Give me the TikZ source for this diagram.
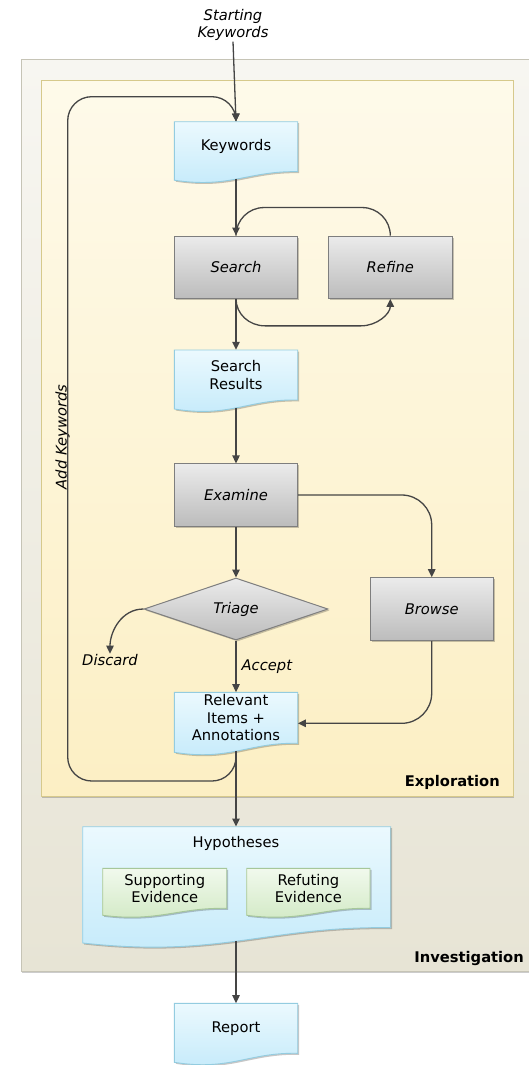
\documentclass[tikz,border=0pt]{standalone}
\usepackage{fontspec}
\setmainfont{DejaVu Sans}
\usetikzlibrary{arrows.meta,shapes.geometric,shadows,calc}
\definecolor{conncol}{HTML}{454545}
\definecolor{outtop}{HTML}{F7F6F1}
\definecolor{outbot}{HTML}{E7E4D5}
\definecolor{outline}{HTML}{C6C4B6}
\definecolor{intop}{HTML}{FEFAEA}
\definecolor{inbot}{HTML}{FCEFC4}
\definecolor{inline}{HTML}{D6C98C}
\definecolor{bluetop}{HTML}{EBF9FE}
\definecolor{bluebot}{HTML}{C4EAFA}
\definecolor{blueline}{HTML}{93CCE0}
\definecolor{graytop}{HTML}{EBEBEB}
\definecolor{graybot}{HTML}{BCBCBC}
\definecolor{grayline}{HTML}{7E7E7E}
\definecolor{greentop}{HTML}{F1F9ED}
\definecolor{greenbot}{HTML}{D1E9C4}
\definecolor{greenline}{HTML}{A6C79A}
\newcommand\docpath[6]{%
  \path[#1] (#2,#3) -- (#4,#3) -- (#4,#5)
    .. controls ({#4-0.4*(#4-#2)},{#5-#6/8}) and ({#2+0.45*(#4-#2)},{#5+2*#6}) .. (#2,{#5+#6}) -- cycle;}
\newcommand\fs{\fontsize{14.7}{17.3}\selectfont}
\tikzset{
  txt/.style={font=\fs},
  shad/.style={drop shadow={shadow xshift=1.5pt,shadow yshift=-1.5pt,fill=black,opacity=0.22}},
  bluedoc/.style={shad,top color=bluetop,bottom color=bluebot,draw=blueline,line width=0.9pt},
  greendoc/.style={shad,top color=greentop,bottom color=greenbot,draw=greenline,line width=0.9pt},
  doctext/.style={txt,align=center,inner sep=0pt,minimum width=123.4pt},
  proc/.style={shad,rectangle,top color=graytop,bottom color=graybot,draw=grayline,line width=1pt,
    minimum width=123.4pt,minimum height=62.3pt,inner sep=0pt,font=\fs\itshape},
  decision/.style={shad,diamond,aspect=3,top color=graytop,bottom color=graybot,draw=grayline,line width=1pt,
    minimum width=184pt,minimum height=62pt,inner sep=0pt,font=\fs\itshape},
  wire/.style={draw=conncol,line width=1.3pt},
  conn/.style={wire,-{Triangle[length=8pt,width=7.5pt]}},
  lbl/.style={font=\fs\itshape,inner sep=1pt},
  grp/.style={font=\fs\bfseries,inner sep=0pt}
}
\begin{document}
\begin{tikzpicture}[x=1pt,y=-1pt]
\useasboundingbox (0,0) rectangle (529,1065);
\clip (0,0) rectangle (529,1065);
\fill[white] (0,0) rectangle (529,1065);
% group boxes
\path[drop shadow={shadow xshift=1pt,shadow yshift=-1.5pt,fill=black,opacity=0.2},
  top color=outtop,bottom color=outbot,draw=outline,line width=1pt] (21,60) rectangle (560,971.7);
\path[drop shadow={shadow xshift=1pt,shadow yshift=-1.5pt,fill=black,opacity=0.2},
  top color=intop,bottom color=inbot,draw=inline,line width=1pt] (41.3,80) rectangle (513,796);
\node[grp,anchor=east] (explab) at (500,782) {Exploration};
\node[grp,anchor=east] (invlab) at (524,958) {Investigation};
% documents
\docpath{bluedoc}{174.3}{121.7}{297.7}{171.7}{8.5}
\node[doctext,minimum height=50pt] (kw) at (236,146.7) {Keywords};
\coordinate (kw-b) at (236,178.5);
\docpath{bluedoc}{174.3}{350}{297.7}{400}{9}
\node[doctext,minimum height=50pt] (sr) at (236,375) {Search\\Results};
\coordinate (sr-b) at (236,407.5);
\docpath{bluedoc}{174.3}{692.3}{297.7}{743.3}{9}
\node[doctext,minimum height=51pt] (rel) at (236,717.8) {Relevant\\Items +\\Annotations};
\coordinate (rel-b) at (236,751);
\docpath{bluedoc}{82.7}{826.7}{390.7}{927.7}{15.3}
\node[txt,inner sep=0pt,minimum height=33.2pt] (hyp) at (236,843.3) {Hypotheses};
\coordinate (hyp-b) at (236,941);
\docpath{greendoc}{102.7}{868.3}{226.7}{908.3}{7}
\node[doctext,minimum width=124pt,minimum height=40pt] (supp) at (164.7,888.3) {Supporting\\Evidence};
\docpath{greendoc}{246.7}{868.3}{370}{908.3}{7}
\node[doctext,minimum width=123.3pt,minimum height=40pt] (ref) at (308.4,888.3) {Refuting\\Evidence};
\docpath{bluedoc}{174.3}{1003.3}{297.7}{1053.3}{9}
\node[doctext,minimum height=50pt] (rep) at (236,1028.3) {Report};
% process boxes
\node[proc] (search) at (236,267.2) {Search};
\node[proc] (refine) at (390.3,267.2) {Refine};
\node[proc] (exam) at (236,495) {Examine};
\node[proc,minimum height=63pt] (browse) at (431.7,609.2) {Browse};
\node[decision] (tri) at (236,609) {Triage};
% free labels
\node[lbl,align=center,font=\fontsize{14.7}{16.7}\selectfont\itshape] (start) at (233,25) {Starting\\Keywords};
\node[lbl] (disc) at (110,660.5) {Discard};
\coordinate (akc) at (67.7,96.7);
\node[lbl,rotate=90,anchor=base,inner sep=0pt] (addkw) at (66.5,437) {Add Keywords};
% connectors
\draw[conn] (start.south) -- (kw.north);
\draw[conn] (kw-b) -- (search.north);
\draw[wire,rounded corners=28pt] (refine.north) -- ++(0,-28) -| (search.north);
\draw[conn] (search.south) -- (sr.north);
\draw[conn] (search.south) .. controls +(0,15) and +(-16,0) .. ++(29,27)
  -- ++(96,0) .. controls +(16,0) and +(0,15) .. (refine.south);
\draw[conn] (sr-b) -- (exam.north);
\draw[conn,rounded corners=30pt] (exam.east) -| (browse.north);
\draw[conn] (exam.south) -- (tri.north);
\draw[conn] (tri.west) .. controls +(-22,0) and +(0,-22) .. (disc.north);
\draw[conn] (tri.south) -- (rel.north) node[lbl,midway,right,xshift=4pt] (acc) {Accept};
\draw[conn,rounded corners=30pt] (browse.south) |- ($(rel.east)+(0,5.5)$);
\draw[conn,rounded corners=24pt] (rel-b) -- ++(0,30) -| (akc) -| (kw.north);
\draw[conn] (rel-b) -- (hyp.north);
\draw[conn] (hyp-b) -- (rep.north);
\end{tikzpicture}
\end{document}
